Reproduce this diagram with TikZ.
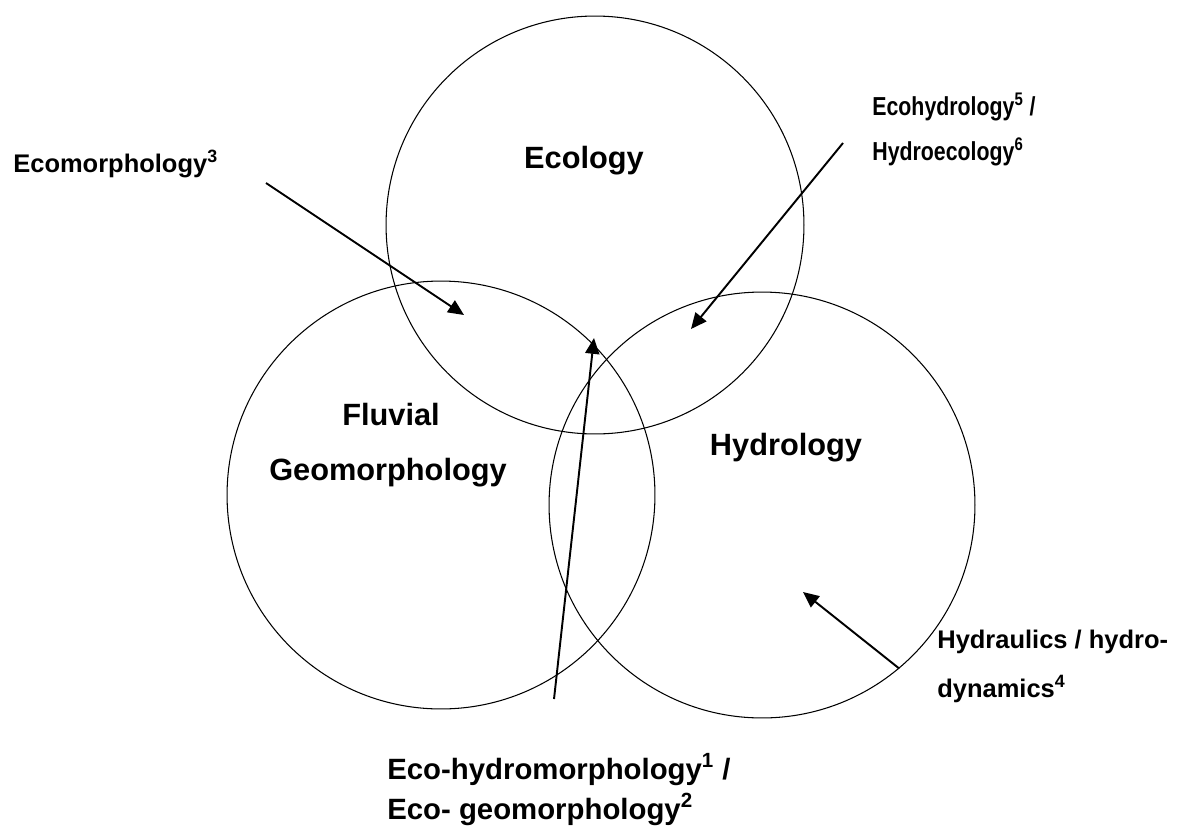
\documentclass[tikz,border=0pt]{standalone}
\usepackage{fontspec}
\setmainfont{Liberation Sans}
\newfontfamily\narrowsans[FakeStretch=0.82]{Liberation Sans}
\usetikzlibrary{arrows.meta}

\tikzset{
  field/.style={draw, circle, line width=0.6pt, inner sep=0pt},
  bigname/.style={font=\fontsize{17.5}{21}\selectfont\bfseries, inner sep=0pt},
  smallname/.style={font=\fontsize{14.5}{17}\selectfont\bfseries, inner sep=0pt, anchor=base west},
  link/.style={line width=1.1pt, -{Triangle[length=9pt,width=8pt]}}
}

\begin{document}
\begin{tikzpicture}[x=0.02cm, y=-0.02cm]
        \useasboundingbox (0,0) rectangle (1192,835);
        % the three fields
        \node [field, minimum size=8.36cm] (ecology) at (595,225) {};
        \node [field, minimum size=8.56cm] (fluvial) at (441,495) {};
        \node [field, minimum size=8.52cm] (hydrology) at (762,505) {};
        % field names
        \node [bigname, anchor=base] (ecologyname) at (584,168) {Ecology};
        \node [bigname, anchor=base] (fluvialname) at (391,425) {Fluvial};
        \node [bigname, anchor=base] (geomorphname) at (388,480) {Geomorphology};
        \node [bigname, anchor=base] (hydrologyname) at (786,455) {Hydrology};
        % overlap names
        \node [smallname] (ecomorph) at (13,172) {Ecomorphology\textsuperscript{3}};
        \node [smallname, font=\fontsize{14.8}{17}\selectfont\narrowsans\bfseries] (ecohyd) at (872,115) {Ecohydrology\textsuperscript{5} /};
        \node [smallname, font=\fontsize{14.8}{17}\selectfont\narrowsans\bfseries] (hydroeco) at (872,160) {Hydroecology\textsuperscript{6}};
        \node [smallname] (hydraulics) at (937,648) {Hydraulics / hydro-};
        \node [smallname] (dynamics) at (937,697) {dynamics\textsuperscript{4}};
        \node [smallname, font=\fontsize{16.7}{20}\selectfont\bfseries] (ecohydromorph) at (387,779) {Eco-hydromorphology\textsuperscript{1} /};
        \node [smallname, font=\fontsize{16.7}{20}\selectfont\bfseries] (ecogeomorph) at (387,819) {Eco- geomorphology\textsuperscript{2}};
        % arrow ends
        \coordinate (ecomorphtail) at (266,183);
        \coordinate (ecomorphtip) at (464,315);
        \coordinate (ecohydtail) at (843,143);
        \coordinate (ecohydtip) at (691,329);
        \coordinate (ecogeotail) at (554,699);
        \coordinate (ecogeotip) at (594,338);
        \coordinate (hydraulictip) at (803,592);
        \draw [link] (ecomorphtail) -- (ecomorphtip);
        \draw [link] (ecohydtail) -- (ecohydtip);
        \draw [link] (ecogeotail) -- (ecogeotip);
        \draw [link] (hydrology.-50) -- (hydraulictip);
\end{tikzpicture}
\end{document}
